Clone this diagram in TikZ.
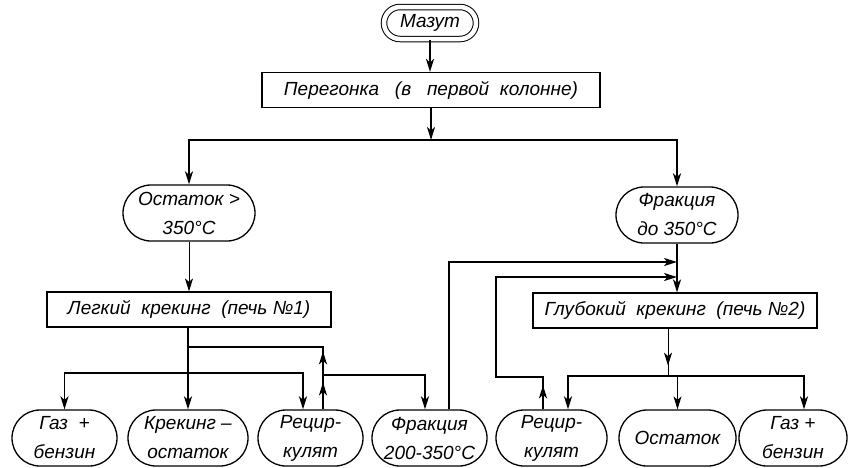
\documentclass[tikz,border=0pt]{standalone}
\usepackage{fontspec}
\setmainfont{Liberation Sans}
\usetikzlibrary{shapes.misc,arrows.meta,decorations.markings}
\begin{document}
\begin{tikzpicture}[x=1pt,y=-1pt,
  >={Stealth[length=13pt,width=8pt,inset=3.5pt]},
  font=\fontsize{19}{29}\selectfont\itshape,
  pill/.style={draw,line width=1.3pt,rounded rectangle,minimum height=56pt,
    inner sep=0pt,align=center},
  stagebox/.style={draw,line width=1.2pt,rectangle,minimum height=35pt,inner sep=0pt},
  trunk/.style={line width=1.9pt},
  flow/.style={trunk,->},
  thinline/.style={line width=1pt},
  thinflow/.style={thinline,->},
  tipat/.style={postaction={decorate},
    decoration={markings,mark=at position #1 with {\arrow{>}}}},
  twotips/.style 2 args={postaction={decorate},
    decoration={markings,mark=at position #1 with {\arrow{>}},
      mark=at position #2 with {\arrow{>}}}}]
\useasboundingbox (0,0) rectangle (848,467);

% feed and primary distillation
\node[pill,double,double distance=4.5pt,line width=1pt,
  minimum width=92pt,minimum height=32pt] (mazut) at (430,23) {Мазут};
\node[stagebox,minimum width=338pt] (pereg) at (431,90)
  {Перегонка \ \ (в \ \ первой \ колонне)};
\draw[flow] (mazut.south) -- (mazut.south |- pereg.north);

\coordinate (split) at (431,140);
\node[pill,minimum width=132pt] (ost) at (189,213) {Остаток >\\350°C};
\node[pill,minimum width=122pt] (fr) at (677,215) {Фракция\\до 350°C};
\draw[flow] (pereg.south) -- (split);
\draw[flow] (split) -| (ost.north);
\draw[flow] (split) -| (fr.north);

% cracking furnaces
\node[stagebox,minimum width=284pt] (lk) at (189,309.5)
  {Легкий \ крекинг \ (печь №1)};
\node[stagebox,minimum width=284pt] (gk) at (675,310.5)
  {Глубокий \ крекинг \ (печь №2)};
\draw[thinflow] (ost.south) -- (ost.south |- lk.north);
\draw[flow] (fr.south) -- (fr.south |- gk.north);

% products
\node[pill,minimum width=105pt] (gb1) at (64.5,438) {Газ \ +\\бензин};
\node[pill,minimum width=120pt] (ko) at (188,438) {Крекинг –\\остаток};
\node[pill,minimum width=105pt] (rc1) at (310.5,438) {Рецир-\\кулят};
\node[pill,minimum width=115pt] (f200) at (429.5,438) {Фракция\\200-350°C};
\node[pill,minimum width=111pt] (rc2) at (551.5,438) {Рецир-\\кулят};
\node[pill,minimum width=117pt] (ost2) at (677.5,438) {Остаток};
\node[pill,minimum width=108pt] (gb2) at (793,438) {Газ +\\бензин};

% light cracking outlets
\coordinate (lkbr) at (188,373);
\coordinate (lkjoin) at (188,347);
\coordinate (fjoin) at (323,375);
\draw[flow] (ko.north |- lk.south) -- (ko.north);
\draw[flow] (lkbr) -| (gb1.north);
\draw[flow] (lkbr) -| ([xshift=-7.5pt]rc1.north);
\draw[trunk,twotips={27pt}{58pt}] ([xshift=12.5pt]rc1.north) |- (lkjoin);
\draw[flow] (fjoin) -| ([xshift=-4.5pt]f200.north);

% returns to deep cracking
\coordinate (gkin1) at (677,262);
\coordinate (gkin2) at (677,277);
\coordinate (rcturn) at (496,377);
\draw[flow] ([xshift=19.5pt]f200.north) |- (gkin1);
\draw[flow,tipat=24pt] ([xshift=-8.5pt]rc2.north) |- (rcturn) |- (gkin2);

% deep cracking outlets
\coordinate (gkbr) at (668,376);
\draw[thinline,tipat=37pt] (gk.south -| gkbr) -- (gkbr);
\draw[flow] (gkbr) -| ([xshift=16.5pt]rc2.north);
\draw[thinflow] (gkbr) -| (ost2.north);
\draw[flow] (gkbr) -| ([xshift=11pt]gb2.north);
\end{tikzpicture}
\end{document}
